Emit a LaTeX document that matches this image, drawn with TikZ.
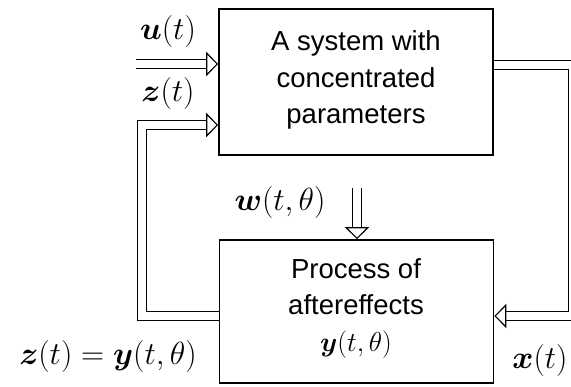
\documentclass[tikz,border=0pt]{standalone}
\usepackage{fix-cm}
\usepackage{amsmath}
\usepackage{bm}
\usepackage[no-math]{fontspec}
\newfontfamily\arialfont{Liberation Sans}
\usetikzlibrary{arrows.meta,positioning}
\tikzset{
  x=1pt, y=-1pt,
  block/.style={draw, line width=1.6pt, minimum width=274pt},
  blocktext/.style={align=center, font=\arialfont\fontsize{27.5}{36.5}\selectfont},
  label/.style={font=\fontsize{32}{34}\selectfont, inner sep=0pt},
  flow/.style={double, line width=1.1pt, double distance=7.5pt,
    -{Triangle[open, length=12pt, width=24pt, line width=1.1pt]}},
}

\begin{document}
\begin{tikzpicture}
    \useasboundingbox (0,0) rectangle (571,387);
    % blocks
    \node[block, minimum height=146pt] (sys)  at (356,82)    {};
    \node[block, minimum height=143pt] (proc) at (356.5,311.5) {};
    \node[blocktext] (systext)  at (356,80)  {A system with\\concentrated\\parameters};
    \node[blocktext] (proctext) at (356,308) {Process of\\aftereffects\\$\bm{y}(t,\theta)$};

    % free ends
    \coordinate (uin) at (136,64);
    \coordinate (zcorner) at (142,125);
    \coordinate (xcorner) at (573,65);
    \coordinate (win) at (357,188);

    % signals
    \draw[flow] (uin) -- (uin -| sys.west);
    \draw[flow] (proc.west |- 0,316) -| (zcorner) -- (zcorner -| sys.west);
    \draw[flow] (xcorner -| sys.east) -- (xcorner) |- (proc.east |- 0,316);
    \draw[flow] (win) -- (win |- proc.north);

    % labels
    \node[label] (ulab)  at (168,32)  {$\bm{u}(t)$};
    \node[label] (zlab)  at (168,94)  {$\bm{z}(t)$};
    \node[label] (wlab)  at (280,203) {$\bm{w}(t,\theta)$};
    \node[label] (zylab) at (108,357) {$\bm{z}(t)=\bm{y}(t,\theta)$};
    \node[label] (xlab)  at (540,361) {$\bm{x}(t)$};
\end{tikzpicture}
\end{document}
